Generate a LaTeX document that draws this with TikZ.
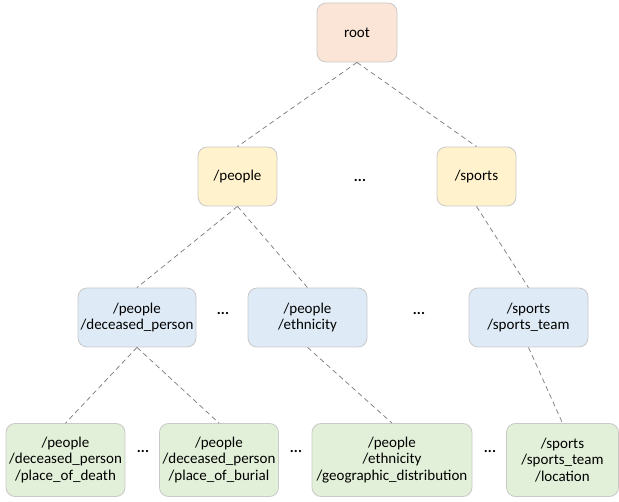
\documentclass[tikz,border=0pt]{standalone}
\usepackage{fontspec}
\setmainfont{Carlito}
\definecolor{rootfill}{HTML}{FBE5D6}
\definecolor{lvlonefill}{HTML}{FFF2CC}
\definecolor{lvltwofill}{HTML}{DEEBF7}
\definecolor{lvlthreefill}{HTML}{E2F0D9}
\definecolor{boxline}{HTML}{C9C9C9}
\definecolor{edgeline}{HTML}{7F7F7F}
\tikzset{
  box/.style={draw=boxline, line width=0.8pt, rounded corners=9pt, align=center,
    font=\fontsize{15}{16.8}\selectfont, inner sep=0pt},
  rootbox/.style={box, fill=rootfill},
  onebox/.style={box, fill=lvlonefill},
  twobox/.style={box, fill=lvltwofill},
  threebox/.style={box, fill=lvlthreefill},
  edge/.style={draw=edgeline, line width=0.75pt, dash pattern=on 5pt off 3.5pt},
  dots/.style={font=\fontsize{15}{16}\selectfont\bfseries, inner sep=0pt}
}
\begin{document}
\begin{tikzpicture}[x=1pt,y=-1pt]
\useasboundingbox (0,0) rectangle (619,502);
% level 0
\node[rootbox, minimum width=80pt, minimum height=59pt] (root) at (357,32.5) {root};
% level 1
\node[onebox, minimum width=79pt, minimum height=59pt] (people) at (237.5,176.5) {/people};
\node[onebox, minimum width=79pt, minimum height=59pt] (sports) at (476.5,176.5) {/sports};
\node[dots] (d1) at (360,180) {...};
% level 2
\node[twobox, minimum width=118pt, minimum height=59pt] (deceased) at (137,317.5) {/people\\/deceased\_person};
\node[twobox, minimum width=119pt, minimum height=59pt] (ethnicity) at (307.5,317.5) {/people\\/ethnicity};
\node[twobox, minimum width=119pt, minimum height=59pt] (team) at (528.5,317.5) {/sports\\/sports\_team};
\node[dots] (d2) at (223,313) {...};
\node[dots] (d3) at (419,313) {...};
% level 3
\node[threebox, minimum width=119pt, minimum height=73pt] (death) at (65.5,460) {/people\\/deceased\_person\\/place\_of\_death};
\node[threebox, minimum width=119pt, minimum height=73pt] (burial) at (219,460) {/people\\/deceased\_person\\/place\_of\_burial};
\node[threebox, minimum width=160pt, minimum height=73pt] (geo) at (392,460) {/people\\/ethnicity\\/geographic\_distribution};
\node[threebox, minimum width=112pt, minimum height=73pt] (loc) at (562.5,460) {/sports\\/sports\_team\\/location};
\node[dots] (d4) at (143,451) {...};
\node[dots] (d5) at (296,451) {...};
\node[dots] (d6) at (490,451) {...};
% connectors
\draw[edge] (root.south) -- (people.north);
\draw[edge] (root.south) -- (sports.north);
\draw[edge] (people.south) -- (deceased.north);
\draw[edge] (people.south) -- (ethnicity.north);
\draw[edge] (sports.south) -- (team.north);
\draw[edge] (deceased.south) -- (death.north);
\draw[edge] (deceased.south) -- (burial.north);
\draw[edge] (ethnicity.south) -- (geo.north);
\draw[edge] (team.south) -- (loc.north);
\end{tikzpicture}
\end{document}
